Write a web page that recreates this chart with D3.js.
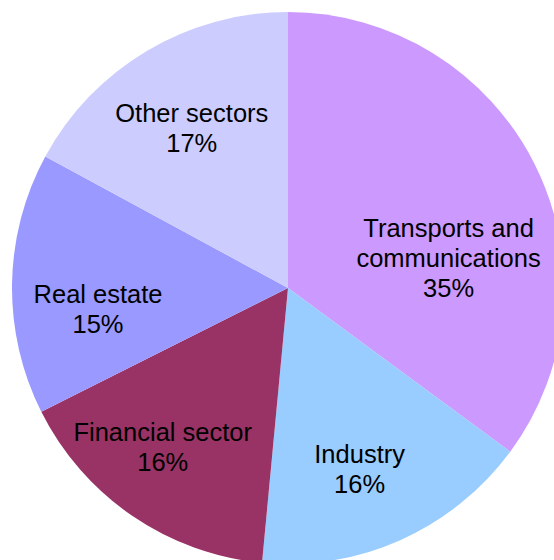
<!DOCTYPE html>
<html>
<head>
<meta charset="utf-8">
<script src="https://cdn.jsdelivr.net/npm/d3@7"></script>
<style>
  html, body { margin: 0; padding: 0; background: #fff; }
  svg { display: block; }
</style>
</head>
<body>
<svg id="chart" width="554" height="560"></svg>
<script>
// Sector shares (percent), clockwise from 12 o'clock
const sectors = ["Transports and\ncommunications", "Industry", "Financial sector", "Real estate", "Other sectors"];
const shares = [35.1, 16.4, 16.1, 15.3, 17.1];
const colors = ["#CC99FF", "#99CCFF", "#993366", "#9999FF", "#CCCCFF"];

const svg = d3.select("#chart");
const cx = 288, cy = 288, R = 276;

const data = sectors.map((name, i) => ({ name, value: shares[i], color: colors[i] }));

const pie = d3.pie().value(d => d.value).sort(null);
const arcs = pie(data);

const arc = d3.arc().innerRadius(0).outerRadius(R);
const labelArc = d3.arc().innerRadius(190).outerRadius(190);

const g = svg.append("g").attr("transform", `translate(${cx},${cy})`);

g.selectAll("path.slice")
  .data(arcs)
  .join("path")
  .attr("class", "slice")
  .attr("d", arc)
  .attr("fill", d => d.data.color);

// Label nudges away from the mid-angle anchor so the text sits inside the slice
const nudge = [[-9, 56], [-6, 8], [-18, 2], [0, 24], [1, 3]];
const fontSize = 25.5, lineH = 30;

g.selectAll("text.lbl")
  .data(arcs)
  .join("text")
  .attr("class", "lbl")
  .attr("text-anchor", "middle")
  .attr("font-family", "Liberation Sans, Arial, sans-serif")
  .attr("font-size", fontSize)
  .attr("fill", "#000")
  .each(function(d, i) {
    const [x0, y0] = labelArc.centroid(d);
    const x = x0 + nudge[i][0], y = y0 + nudge[i][1];
    const lines = d.data.name.split("\n").concat([Math.round(d.data.value) + "%"]);
    const top = y - (lines.length - 1) * lineH / 2 + 9;
    const t = d3.select(this);
    lines.forEach((ln, k) => {
      t.append("tspan").attr("x", x).attr("y", top + k * lineH).text(ln);
    });
  });
</script>
</body>
</html>
